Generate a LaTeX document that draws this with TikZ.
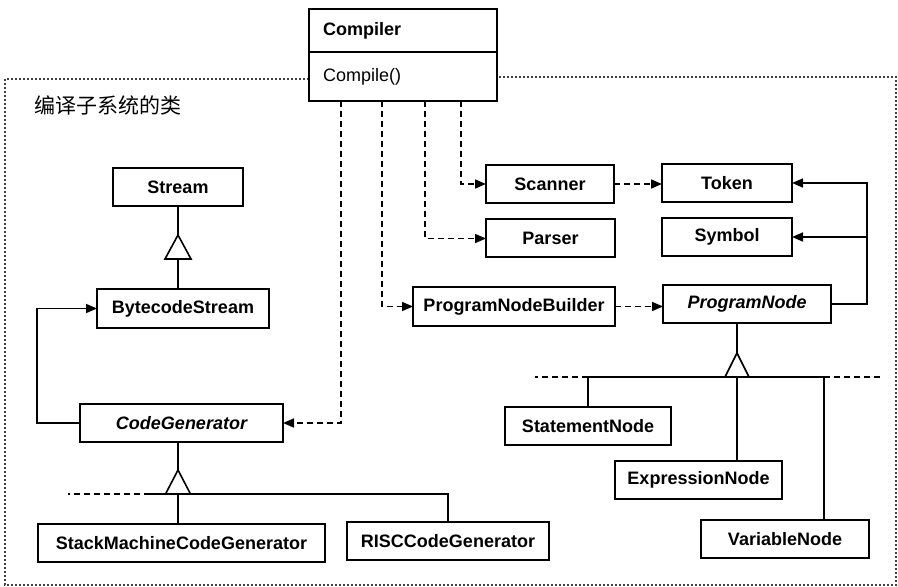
\documentclass[tikz,border=0pt]{standalone}
\usepackage{fontspec}
\setmainfont{Liberation Sans}
\newfontfamily\cjk{Noto Sans CJK SC}
\usepackage{tikz}
\usetikzlibrary{arrows.meta, positioning, calc}

\tikzset{
  cls/.style={draw, line width=1pt, minimum height=19pt, inner sep=0pt, outer sep=0pt,
    font=\fontsize{9}{11}\selectfont\bfseries},
  abstr/.style={cls, font=\fontsize{9}{11}\selectfont\bfseries\itshape},
  dep/.style={line width=0.8pt, dash pattern=on 3pt off 2pt,
    -{Triangle[length=5.5pt,width=4.5pt]}},
  assoc/.style={line width=0.8pt, -{Triangle[length=5.5pt,width=4.5pt]}},
  inh/.style={line width=0.8pt},
  inhopen/.style={line width=0.8pt, dash pattern=on 3pt off 2pt},
  gen/.style={line width=0.8pt, fill=white},
}

\begin{document}
\begin{tikzpicture}[x=0.5pt, y=-0.5pt]
\useasboundingbox (0,0) rectangle (898,587);

% Subsystem frame
\draw[line width=1pt, black!75, densely dotted] (309,79) -- (5,79) -- (5,585) -- (896,585) -- (896,77) -- (497,77);
\node[anchor=west, font=\cjk\fontsize{10.5}{12}\selectfont] (title) at (27,105) {编译子系统的类};

% Compiler
\node[cls, minimum width=94pt, minimum height=21.5pt, text width=80pt, align=left] (compiler) at (403,30.5) {Compiler};
\node[cls, font=\fontsize{9}{11}\selectfont, minimum width=94pt, minimum height=24.5pt, text width=80pt, align=left, anchor=north] (compile) at (compiler.south) {Compile()};

% Classes
\node[cls, minimum width=65pt] (stream) at (178,187) {Stream};
\node[cls, minimum width=86pt] (bcstream) at (183,308.5) {BytecodeStream};
\node[abstr, minimum width=101.5pt] (codegen) at (181.5,423) {CodeGenerator};
\node[cls, minimum width=143.5pt] (smcg) at (181.5,543) {StackMachineCodeGenerator};
\node[cls, minimum width=101pt] (risc) at (448,541) {RISCCodeGenerator};

\node[cls, minimum width=64pt] (scanner) at (550,184) {Scanner};
\node[cls, minimum width=65pt] (token) at (727,183) {Token};
\node[cls, minimum width=64.5pt] (parser) at (550.5,238.5) {Parser};
\node[cls, minimum width=65pt] (symbol) at (727,237) {Symbol};
\node[cls, minimum width=101pt] (pnb) at (514,306.5) {ProgramNodeBuilder};
\node[abstr, minimum width=84pt] (prognode) at (747,304) {ProgramNode};
\node[cls, minimum width=83pt] (stmt) at (588,426) {StatementNode};
\node[cls, minimum width=83.5pt] (expr) at (698.5,479.5) {ExpressionNode};
\node[cls, minimum width=84pt] (varnode) at (785,539) {VariableNode};

% Compile() dependencies
\draw[dep] ($(compile.south west)+(152,0)$) |- (scanner);
\draw[dep] ($(compile.south west)+(116,0)$) |- (parser);
\draw[dep] ($(compile.south west)+(73,0)$) |- (pnb);
\draw[dep] ($(compile.south west)+(32,0)$) |- (codegen);

\draw[dep] (scanner.east) -- (scanner.east -| token.west);
\draw[dep] (pnb.east) -- (pnb.east -| prognode.west);

% ProgramNode associations
\coordinate (pnright) at ($(prognode.east)+(36,0)$);
\draw[assoc] (prognode.east) -- (pnright) |- (token);
\draw[assoc] (pnright |- symbol) -- (symbol);

% CodeGenerator -> BytecodeStream
\draw[assoc] (codegen.west) -- ++(-43,0) |- (bcstream);

% Stream hierarchy
\coordinate (sttip) at (178,235);
\draw[inh] (stream.south) -- (sttip);
\draw[inh] ($(sttip)+(0,24)$) -- (sttip |- bcstream.north);
\draw[gen] (sttip) -- ++(-13,24) -- ++(26,0) -- cycle;

% CodeGenerator hierarchy
\coordinate (cgtip) at (178,470);
\coordinate (cgbar) at (178,494);
\draw[inh] (codegen.south -| cgtip) -- (cgtip);
\draw[inh] ($(cgbar)+(-28,0)$) -| (risc.north);
\draw[inhopen] ($(cgbar)+(-28,0)$) -- ++(-82,0);
\draw[inh] (cgbar) -- (cgbar |- smcg.north);
\draw[gen] (cgtip) -- ++(-12.5,24) -- ++(25,0) -- cycle;

% ProgramNode hierarchy
\coordinate (pntip) at (737,353);
\coordinate (pnbar) at (737,377);
\coordinate (vnjoin) at (824,377);
\draw[inh] (prognode.south -| pntip) -- (pntip);
\draw[inh] (stmt.north) |- (vnjoin) -- (vnjoin |- varnode.north);
\draw[inh] (pnbar) -- (pnbar |- expr.north);
\draw[inhopen] (stmt.north |- pnbar) -- ++(-53,0);
\draw[inhopen] (vnjoin) -- ++(56,0);
\draw[gen] (pntip) -- ++(-12,24) -- ++(24,0) -- cycle;

\end{tikzpicture}
\end{document}
